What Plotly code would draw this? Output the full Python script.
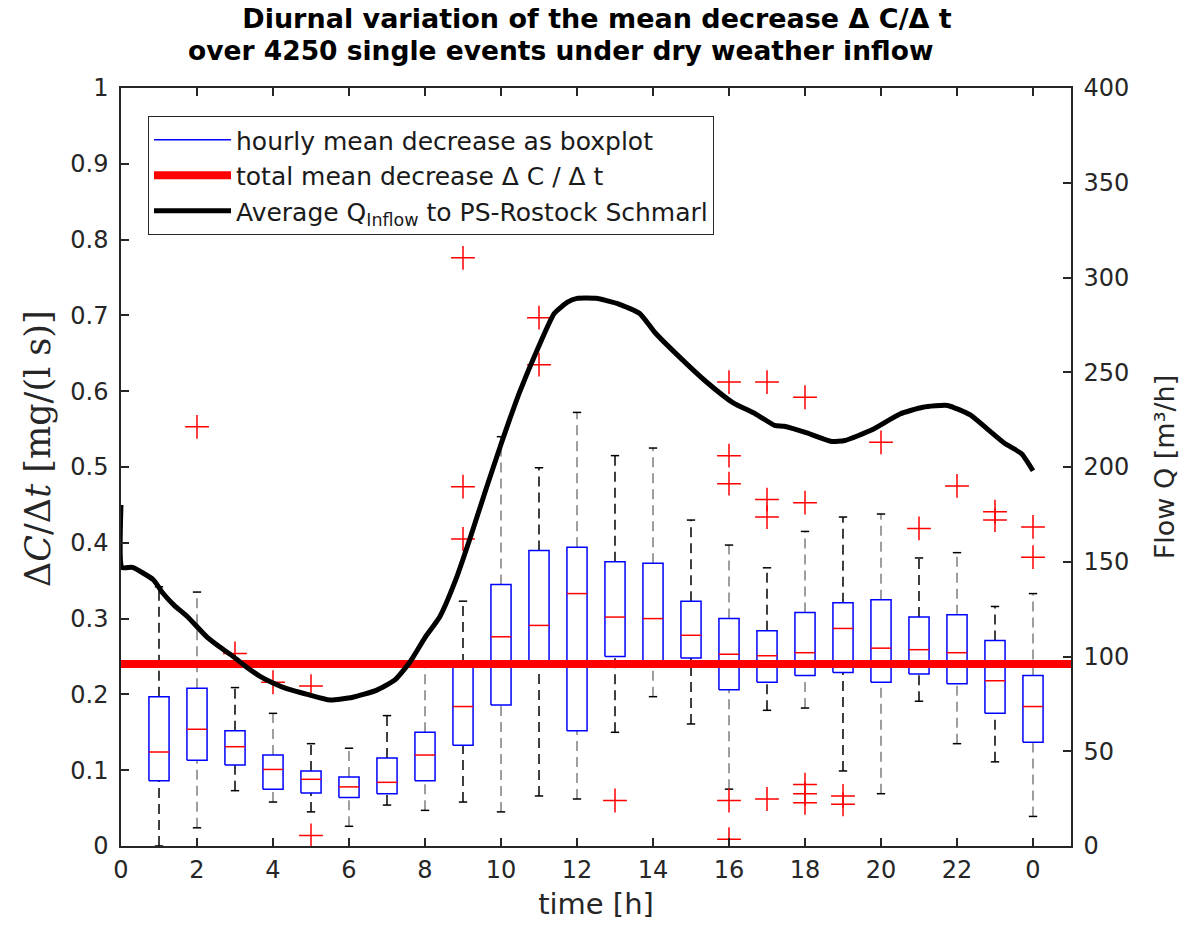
import plotly.graph_objects as go

# ---------------- data ----------------
hours = list(range(1, 25))
q1 = [0.086, 0.113, 0.107, 0.075, 0.070, 0.064, 0.069, 0.086, 0.133, 0.186, 0.238, 0.152,
      0.250, 0.238, 0.248, 0.206, 0.216, 0.225, 0.229, 0.216, 0.227, 0.214, 0.175, 0.137]
med = [0.124, 0.154, 0.131, 0.101, 0.088, 0.078, 0.084, 0.120, 0.184, 0.276, 0.291, 0.333,
       0.302, 0.300, 0.278, 0.253, 0.251, 0.255, 0.287, 0.261, 0.259, 0.255, 0.218, 0.184]
q3 = [0.197, 0.208, 0.152, 0.120, 0.099, 0.091, 0.116, 0.150, 0.240, 0.345, 0.390, 0.394,
      0.375, 0.373, 0.323, 0.300, 0.284, 0.308, 0.321, 0.325, 0.302, 0.305, 0.271, 0.225]
whisk_lo = [0.0, 0.024, 0.073, 0.058, 0.045, 0.026, 0.054, 0.047, 0.058, 0.045, 0.066, 0.062,
            0.150, 0.197, 0.161, 0.075, 0.179, 0.182, 0.099, 0.069, 0.191, 0.135, 0.111, 0.039]
whisk_hi = [0.342, 0.335, 0.209, 0.175, 0.135, 0.129, 0.172, 0.242, 0.323, 0.540, 0.499, 0.572,
            0.515, 0.525, 0.430, 0.397, 0.367, 0.415, 0.434, 0.438, 0.380, 0.387, 0.316, 0.333]

outlier_hour = [2, 3, 4, 5, 5, 9, 9, 9, 11, 11, 13,
                16, 16, 16, 16, 16, 17, 17, 17, 17,
                18, 18, 18, 18, 18, 19, 19, 20, 21, 22, 23, 23, 24, 24]
outlier_val = [0.553, 0.254, 0.216, 0.211, 0.014, 0.776, 0.474, 0.405, 0.697, 0.635, 0.060,
               0.612, 0.515, 0.478, 0.060, 0.009, 0.612, 0.457, 0.434, 0.062,
               0.592, 0.453, 0.081, 0.069, 0.057, 0.066, 0.055, 0.5325, 0.419, 0.475, 0.441, 0.430, 0.421, 0.381]

total_mean = 0.24

flow_t = [0.0, 0.03, 0.3, 0.85, 1.1, 1.4, 1.75, 2.25, 2.6, 2.95, 3.3, 3.66, 4.0, 4.36, 4.9, 5.5,
          6.1, 6.7, 7.2, 7.6, 8.0, 8.39, 8.8, 9.18, 9.6, 10.0, 10.5, 11.0, 11.4, 11.75, 12.0,
          12.5, 13.1, 13.65, 14.05, 14.7, 15.4, 16.1, 16.7, 17.2, 17.45, 18.05, 18.7, 19.05,
          19.75, 20.5, 21.1, 21.75, 22.35, 22.8, 23.25, 23.7, 24.0]
flow_q = [180, 147, 147, 140.5, 133.5, 127, 121, 110.5, 105, 100, 94.5, 89.5, 86, 83, 80, 77,
          78.5, 82, 87.5, 97, 110, 121, 140, 162, 188, 212, 240, 264, 281, 287, 289,
          289, 286, 281, 271, 258, 245, 234, 228, 222, 221.5, 218, 213.5, 214,
          219.5, 228, 231.5, 232.5, 227.5, 220, 212.5, 207, 198]

x_tickvals = list(range(0, 25, 2))
x_ticktext = ["0", "2", "4", "6", "8", "10", "12", "14", "16", "18", "20", "22", "0"]
x_range = [0, 25]

# ---------------- styling ----------------
BOX_HW = 0.265
CAP_HW = 0.11
AX = "#262626"
FONT = "DejaVu Sans"

# ---------------- build paths from data ----------------
bx, by = [], []
mx, my = [], []
wkx, wky, wgx, wgy = [], [], [], []
cx, cy = [], []
for h, a, m, b, lo, hi in zip(hours, q1, med, q3, whisk_lo, whisk_hi):
    bx += [h - BOX_HW, h + BOX_HW, h + BOX_HW, h - BOX_HW, h - BOX_HW, None]
    by += [a, a, b, b, a, None]
    mx += [h - BOX_HW, h + BOX_HW, None]
    my += [m, m, None]
    if h % 2 == 1:
        wkx += [h, h, None, h, h, None]
        wky += [lo, a, None, b, hi, None]
    else:
        wgx += [h, h, None, h, h, None]
        wgy += [lo, a, None, b, hi, None]
    cx += [h - CAP_HW, h + CAP_HW, None, h - CAP_HW, h + CAP_HW, None]
    cy += [lo, lo, None, hi, hi, None]

fig = go.Figure()
fig.add_trace(go.Scatter(x=wkx, y=wky, mode="lines", showlegend=False, hoverinfo="skip",
                         line=dict(color="black", width=1.5, dash="10px,6px")))
fig.add_trace(go.Scatter(x=wgx, y=wgy, mode="lines", showlegend=False, hoverinfo="skip",
                         line=dict(color="#7f7f7f", width=1.5, dash="10px,6px")))
fig.add_trace(go.Scatter(x=cx, y=cy, mode="lines", showlegend=False, hoverinfo="skip",
                         line=dict(color="black", width=1.5)))
fig.add_trace(go.Scatter(x=bx, y=by, mode="lines", name="hourly mean decrease as boxplot",
                         legendrank=1, line=dict(color="#0000ff", width=1.5)))
fig.add_trace(go.Scatter(x=mx, y=my, mode="lines", showlegend=False, hoverinfo="skip",
                         line=dict(color="#ff0000", width=1.5)))
fig.add_trace(go.Scatter(x=outlier_hour, y=outlier_val, mode="markers", showlegend=False,
                         marker=dict(symbol="cross-thin", size=17,
                                     line=dict(color="#ff0000", width=1.5))))
fig.add_trace(go.Scatter(x=x_range, y=[total_mean, total_mean], mode="lines",
                         name="total mean decrease \u0394 C / \u0394 t", legendrank=2,
                         line=dict(color="#ff0000", width=8)))
fig.add_trace(go.Scatter(x=flow_t, y=flow_q, mode="lines", yaxis="y2",
                         name="Average Q<sub>Inflow</sub> to PS-Rostock Schmarl", legendrank=3,
                         line=dict(color="black", width=5, shape="spline", smoothing=0.5)))

fig.update_layout(
    width=1186, height=944, autosize=False,
    margin=dict(l=121, r=115, t=88, b=98),
    paper_bgcolor="white", plot_bgcolor="white",
    font=dict(family=FONT, color=AX, size=24),
    title=dict(text="<b>Diurnal variation of the mean decrease \u0394 C/\u0394 t</b>",
               xref="container", yref="container", x=597 / 1186, y=1 - 19 / 944,
               xanchor="center", yanchor="middle",
               font=dict(family=FONT, size=27, color="black")),
    annotations=[
        dict(text="<b>over 4250 single events under dry weather inflow</b>",
             xref="paper", yref="paper", x=(560 - 121) / 950, y=(846 - 50) / 758,
             xanchor="center", yanchor="middle", showarrow=False,
             font=dict(family=FONT, size=26.5, color="black")),
        dict(text="\u0394<i>C</i>/\u0394<i>t</i> [mg/(l s)]", textangle=-90,
             xref="paper", yref="paper", x=(38 - 121) / 950, y=(846 - 449) / 758,
             xanchor="center", yanchor="middle", showarrow=False,
             font=dict(family="DejaVu Serif", size=35, color=AX)),
    ],
    xaxis=dict(range=x_range, tickvals=x_tickvals, ticktext=x_ticktext,
               ticks="inside", ticklen=8, tickwidth=1.5, tickcolor=AX,
               showline=True, linecolor=AX, linewidth=1.5, mirror="ticks",
               showgrid=False, zeroline=False, ticklabelstandoff=1,
               tickfont=dict(size=24, color=AX),
               title=dict(text="time [h]", font=dict(size=29, color=AX), standoff=11)),
    yaxis=dict(range=[0, 1], dtick=0.1, ticks="inside", ticklen=8, tickwidth=1.5,
               tickcolor=AX, showline=True, linecolor=AX, linewidth=1.5,
               showgrid=False, zeroline=False, ticklabelstandoff=6,
               tickfont=dict(size=24, color=AX)),
    yaxis2=dict(range=[0, 400], dtick=50, overlaying="y", side="right",
                ticks="inside", ticklen=8, tickwidth=1.5, tickcolor=AX,
                showline=True, linecolor=AX, linewidth=1.5, ticklabelstandoff=6,
                showgrid=False, zeroline=False, tickfont=dict(size=24, color=AX),
                title=dict(text="Flow Q [m\u00b3/h]", font=dict(size=27, color=AX), standoff=27)),
    legend=dict(x=(148 - 121) / 950, y=(846 - 116) / 758, xanchor="left", yanchor="top",
                bgcolor="white", bordercolor=AX, borderwidth=1,
                font=dict(size=25, color="#1a1a1a"), itemwidth=77, tracegroupgap=0),
    showlegend=True,
)

fig.write_html("out.html")
